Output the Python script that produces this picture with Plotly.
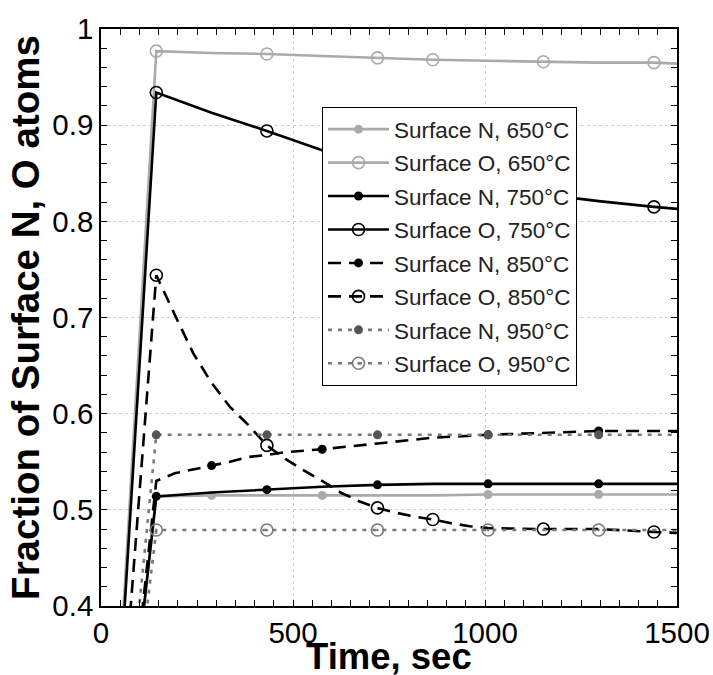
import plotly.graph_objects as go

# ---------------- data ----------------
t_650 = [0, 144, 288, 432, 576, 720, 864, 1008, 1152, 1296, 1440, 1500]
n_650 = [0, 0.514, 0.515, 0.515, 0.515, 0.515, 0.515, 0.516, 0.516, 0.516, 0.516, 0.516]
o_650 = [0, 0.977, 0.975, 0.974, 0.972, 0.970, 0.968, 0.967, 0.966, 0.965, 0.965, 0.964]

t_750 = [0, 144, 288, 432, 576, 720, 864, 1008, 1152, 1296, 1440, 1500]
n_750 = [0, 0.514, 0.518, 0.521, 0.524, 0.526, 0.527, 0.527, 0.527, 0.527, 0.527, 0.527]
o_750 = [0, 0.934, 0.913, 0.894, 0.874, 0.858, 0.845, 0.836, 0.828, 0.821, 0.815, 0.813]

t_850n = [0, 144, 192, 288, 336, 384, 432, 480, 576, 720, 864, 1008, 1152, 1296, 1440, 1500]
n_850 = [0, 0.530, 0.538, 0.546, 0.550, 0.555, 0.557, 0.560, 0.563, 0.569, 0.575, 0.578, 0.580,
         0.582, 0.582, 0.582]
t_850o = [0, 144, 192, 240, 288, 336, 384, 432, 480, 528, 576, 624, 672, 720, 768, 816, 864,
          912, 960, 1008, 1152, 1296, 1440, 1500]
o_850 = [0, 0.744, 0.703, 0.663, 0.632, 0.607, 0.588, 0.567, 0.553, 0.541, 0.530, 0.518, 0.509,
         0.502, 0.497, 0.493, 0.490, 0.486, 0.483, 0.481, 0.480, 0.480, 0.477, 0.476]

t_950 = [0, 144, 432, 720, 1008, 1296, 1500]
n_950 = [0, 0.578, 0.578, 0.578, 0.578, 0.578, 0.578]
o_950 = [0, 0.479, 0.479, 0.479, 0.479, 0.479, 0.479]

# times at which a symbol is drawn on each curve
mk_650n = [288, 576, 1008, 1296]
mk_o = [144, 432, 720, 864, 1152, 1440]
mk_750n = [144, 432, 720, 1008, 1296]
mk_850n = [288, 576, 1008, 1296]
mk_950 = [144, 432, 720, 1008, 1296]

names = ["Surface N, 650°C", "Surface O, 650°C", "Surface N, 750°C", "Surface O, 750°C",
         "Surface N, 850°C", "Surface O, 850°C", "Surface N, 950°C", "Surface O, 950°C"]

x_title = "Time, sec"
y_title = "Fraction of Surface N, O atoms"
x_ticks = [0, 500, 1000, 1500]
y_ticks = [0.4, 0.5, 0.6, 0.7, 0.8, 0.9, 1.0]
y_ticktext = ["0.4", "0.5", "0.6", "0.7", "0.8", "0.9", "1"]

# ---------------- styles ----------------
LG = "#aaaaaa"
DG = "#555555"
MG = "#7a7a7a"
DASH = "13px,8px"
DOT = "4px,6px"

series = [
    (t_650, n_650, mk_650n, LG, LG, None, "circle", 9),
    (t_650, o_650, mk_o, LG, LG, None, "circle-open", 12),
    (t_750, n_750, mk_750n, "black", "black", None, "circle", 9),
    (t_750, o_750, mk_o, "black", "black", None, "circle-open", 12),
    (t_850n, n_850, mk_850n, "black", "black", DASH, "circle", 9),
    (t_850o, o_850, mk_o, "black", "black", DASH, "circle-open", 12),
    (t_950, n_950, mk_950, MG, DG, DOT, "circle", 9),
    (t_950, o_950, mk_950, MG, MG, DOT, "circle-open-dot", 12),
]

fig = go.Figure()
for i, (tx, ty, mk, lc, mc, dash, sym, size) in enumerate(series):
    cols = [mc if (j == 0 or t in mk) else "rgba(0,0,0,0)" for j, t in enumerate(tx)]
    line = dict(color=lc, width=2.6)
    if dash:
        line["dash"] = dash
    fig.add_trace(go.Scatter(
        x=tx, y=ty, name=names[i], mode="lines+markers", legendgroup=f"g{i}",
        line=line,
        marker=dict(symbol=sym, size=size, color=cols,
                    line=dict(width=1.6 if "open" in sym else 0, color=cols)),
    ))

axis_common = dict(
    showline=True, linecolor="black", linewidth=1.5, mirror="ticks",
    ticks="inside", ticklen=6, tickwidth=1.2, tickcolor="black",
    showgrid=True, gridcolor="#cfcfcf", griddash="dot", gridwidth=1,
    zeroline=False, tickfont=dict(size=29.5, color="black"),
)

fig.update_xaxes(
    range=[0, 1500], tickvals=x_ticks, ticktext=[str(v) for v in x_ticks],
    minor=dict(dtick=50, ticks="inside", ticklen=6, tickcolor="black", tickwidth=1.2, showgrid=False),
    **axis_common,
)
fig.update_yaxes(
    range=[0.4, 1.0], tickvals=y_ticks, ticktext=y_ticktext,
    minor=dict(dtick=0.02, ticks="inside", ticklen=6, tickcolor="black", tickwidth=1.2, showgrid=False),
    title=dict(text=y_title, font=dict(size=38.5, weight="bold", color="black"), standoff=1),
    **axis_common,
)

fig.add_annotation(
    text=x_title, xref="paper", yref="paper", x=0.5, y=-0.088, xanchor="center", yanchor="middle",
    showarrow=False, font=dict(size=36.5, weight="bold", color="black"),
)

fig.update_layout(
    width=713, height=675,
    margin=dict(l=101, r=36, t=29, b=69, autoexpand=False),
    plot_bgcolor="white", paper_bgcolor="white",
    font=dict(family="Arial, 'Liberation Sans', sans-serif", color="black"),
    legend=dict(x=0.3837, y=0.8648, xanchor="left", yanchor="top",
                bgcolor="white", bordercolor="black", borderwidth=1,
                font=dict(size=22.5, color="#222222"), itemwidth=61, tracegroupgap=1.2,
                traceorder="grouped"),
    showlegend=True,
)

fig.write_html("out.html", config={"displayModeBar": False},
               post_script="document.body.style.margin='0px';")
